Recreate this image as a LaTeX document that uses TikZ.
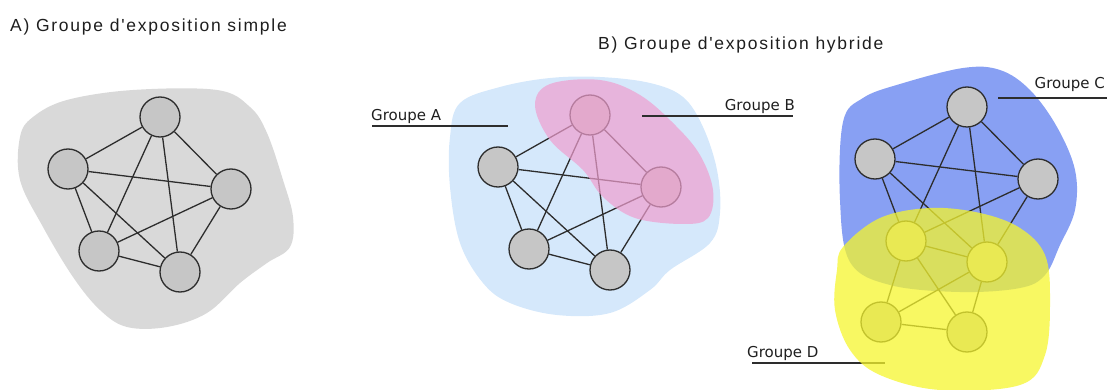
\documentclass[tikz,border=0pt]{standalone}
\usepackage{fontspec}
\usetikzlibrary{positioning}
\newfontfamily\titrefont[LetterSpace=10,Ligatures=TeXOff]{Liberation Sans}
\newfontfamily\groupefont[Ligatures=TeXOff]{DejaVu Sans}
\definecolor{fondgris}{RGB}{217,217,217}
\definecolor{sommetgris}{RGB}{198,198,198}
\definecolor{bord}{RGB}{45,45,45}
\definecolor{bleuclair}{RGB}{213,232,251}
\definecolor{rose}{RGB}{240,158,207}
\definecolor{bleu}{RGB}{136,160,243}
\definecolor{jaune}{RGB}{245,245,45}
\definecolor{texte}{RGB}{30,30,30}

\tikzset{
  sommet/.style={circle, draw=bord, fill=sommetgris, line width=1.3pt, minimum size=40pt, inner sep=0pt},
  lien/.style={draw=bord, line width=1.3pt},
  titre/.style={font=\titrefont\fontsize{17.5}{20}\selectfont, text=texte, inner sep=0pt, anchor=base west},
  groupe/.style={font=\groupefont\fontsize{15}{18}\selectfont, text=texte, inner sep=0pt},
  trait/.style={draw=bord, line width=1.3pt}
}

\begin{document}
\begin{tikzpicture}[x=1pt, y=-1pt]
  \useasboundingbox (0,0) rectangle (1111,390);

  % Titres
  \node[titre] (titreA) at (10,32) {A) Groupe d'exposition simple};
  \node[titre] (titreB) at (598,50) {B) Groupe d'exposition hybride};

  %%% A) groupe simple
  \fill[fondgris] plot[smooth cycle, tension=0.6] coordinates {(20,137) (33,117) (67,100) (133,90) (217,90) (250,107)
    (267,133) (283,180) (293,217) (290,247) (267,263) (240,283) (207,313) (167,327) (127,327) (100,310) (73,277) (43,227) (20,180)};

  \node[sommet] (a1) at (160,117) {};
  \node[sommet] (a2) at (68,169) {};
  \node[sommet] (a3) at (231,189) {};
  \node[sommet] (a4) at (99,251) {};
  \node[sommet] (a5) at (180,272) {};
  \foreach \i/\j in {1/2,1/3,1/4,1/5,2/3,2/4,2/5,3/4,3/5,4/5}
    \draw[lien] (a\i) -- (a\j);

  %%% B) groupes A et B
  % Groupe A (bleu clair)
  \fill[bleuclair] plot[smooth cycle, tension=0.6] coordinates {(450,137) (460,103) (500,87) (550,78) (600,77) (650,83)
    (683,97) (703,127) (717,170) (720,213) (710,243) (670,270) (650,290) (610,313) (557,315) (510,303) (483,283) (460,243) (450,187)};

  \node[sommet] (b1) at (590,115) {};
  \node[sommet] (b2) at (498,167) {};
  \node[sommet] (b3) at (661,187) {};
  \node[sommet] (b4) at (529,249) {};
  \node[sommet] (b5) at (610,270) {};
  \foreach \i/\j in {1/2,1/3,1/4,1/5,2/3,2/4,2/5,3/4,3/5,4/5}
    \draw[lien] (b\i) -- (b\j);

  % Groupe B (rose, par-dessus)
  \fill[rose, opacity=0.7] plot[smooth cycle, tension=0.6] coordinates {(535,105) (550,84) (600,80) (640,95) (675,125)
    (700,155) (713,190) (708,218) (683,224) (635,218) (603,197) (583,170) (550,140)};

  % Etiquettes A et B
  \coordinate (lA1) at (372,126);
  \coordinate (lA2) at (508,126);
  \draw[trait] (lA1) -- (lA2);
  \node[groupe, anchor=base west] (gA) at (371,121) {Groupe A};
  \coordinate (lB1) at (642,116);
  \coordinate (lB2) at (793,116);
  \draw[trait] (lB1) -- (lB2);
  \node[groupe, anchor=base east] (gB) at (795,111) {Groupe B};

  %%% B) groupes C et D
  % Groupe C (bleu)
  \fill[bleu] plot[smooth cycle, tension=0.6] coordinates {(843,122) (863,98) (900,84) (963,68) (1000,70) (1030,90)
    (1057,127) (1075,170) (1075,210) (1060,245) (1045,275) (1020,288) (960,292) (890,285) (850,262) (840,200)};

  \node[sommet] (c1) at (967,107) {};
  \node[sommet] (c2) at (875,159) {};
  \node[sommet] (c3) at (1038,179) {};
  \node[sommet] (c4) at (906,241) {};
  \node[sommet] (c5) at (987,262) {};
  \node[sommet] (d1) at (881,322) {};
  \node[sommet] (d2) at (967,332) {};
  \foreach \i/\j in {c1/c2,c1/c3,c1/c4,c1/c5,c2/c3,c2/c4,c2/c5,c3/c4,c3/c5,c4/c5,c4/d1,c4/d2,c5/d1,c5/d2,d1/d2}
    \draw[lien] (\i) -- (\j);

  % Etiquette D (sous le jaune)
  \coordinate (lD1) at (752,363);
  \coordinate (lD2) at (885,363);
  \draw[trait] (lD1) -- (lD2);
  \node[groupe, anchor=base west] (gD) at (747,357) {Groupe D};

  % Groupe D (jaune, par-dessus)
  \fill[jaune, opacity=0.75] plot[smooth cycle, tension=0.6] coordinates {(843,247) (880,218) (930,208) (980,213) (1020,228)
    (1045,255) (1050,300) (1045,355) (1020,385) (940,390) (880,375) (850,350) (835,310) (837,270)};

  % Etiquette C
  \coordinate (lC1) at (998,98);
  \coordinate (lC2) at (1107,98);
  \draw[trait] (lC1) -- (lC2);
  \node[groupe, anchor=base east] (gC) at (1105,89) {Groupe C};
\end{tikzpicture}
\end{document}
